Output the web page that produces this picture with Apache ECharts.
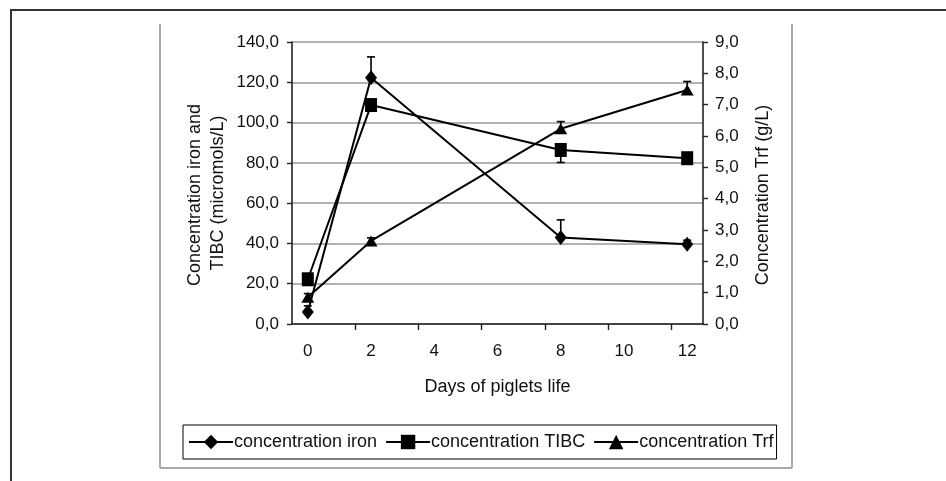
<!DOCTYPE html>
<html>
<head>
<meta charset="utf-8">
<script src="https://cdn.jsdelivr.net/npm/echarts@6/dist/echarts.min.js"></script>
<style>
html,body{margin:0;padding:0;background:#fff;}
#chart{width:946px;height:481px;}
</style>
</head>
<body>
<div id="chart"></div>
<script>
// ---- data ----
var days = [0, 2, 8, 12];
var xTickLabels = [0, 2, 4, 6, 8, 10, 12];
var ironValues = [6.0, 122.3, 42.9, 39.6];
var ironErrPlus = [3.0, 10.3, 8.8, 2.0];
var tibcValues = [22.2, 108.7, 86.4, 82.3];
var tibcErrMinus = [2.0, 2.0, 6.2, 2.0];
var trfValues = [0.85, 2.65, 6.23, 7.47];
var trfErrPlus = [0.12, 0.1, 0.23, 0.27];
var seriesNames = ['concentration iron', 'concentration TIBC', 'concentration Trf'];
var leftAxisTitle = ['Concentration iron and', 'TIBC (micromols/L)'];
var rightAxisTitle = 'Concentration Trf (g/L)';
var xAxisTitle = 'Days of piglets life';

function pairs(xs, ys) { return xs.map(function (x, i) { return [x, ys[i]]; }); }
function errData(xs, ys, es) { return xs.map(function (x, i) { return [x, ys[i], es[i]]; }); }

var FONT = '"Liberation Sans", Arial, sans-serif';
var TXT = '#111';

function errRender(dir) {
  return function (params, api) {
    var x = api.value(0), y = api.value(1), e = api.value(2);
    var p0 = api.coord([x, y]);
    var p1 = api.coord([x, y + dir * e]);
    var half = 4;
    return {
      type: 'group',
      children: [
        { type: 'line', shape: { x1: p0[0], y1: p0[1], x2: p1[0], y2: p1[1] }, style: { stroke: '#000', lineWidth: 1.6 } },
        { type: 'line', shape: { x1: p1[0] - half, y1: p1[1], x2: p1[0] + half, y2: p1[1] }, style: { stroke: '#000', lineWidth: 1.6 } }
      ]
    };
  };
}

var chart = echarts.init(document.getElementById('chart'), null, { renderer: 'canvas' });

var option = {
  backgroundColor: '#fff',
  animation: false,
  textStyle: { fontFamily: FONT, color: TXT },
  grid: { left: 292, right: 243, top: 42, bottom: 157 },
  legend: {
    left: 183, top: 425,
    data: seriesNames,
    itemWidth: 44, itemHeight: 18, itemGap: 8,
    padding: [8, 3, 8, 5],
    borderColor: '#000', borderWidth: 1,
    textStyle: { fontFamily: FONT, fontSize: 18, color: TXT, padding: [0, 0, 0, -4] }
  },
  xAxis: {
    type: 'value', min: -0.5, max: 12.5,
    name: xAxisTitle, nameLocation: 'middle', nameGap: 54,
    nameTextStyle: { fontFamily: FONT, fontSize: 18, color: TXT },
    axisLine: { onZero: false, lineStyle: { color: '#222', width: 1.6 } },
    axisTick: { show: true, length: 6, lineStyle: { color: '#222', width: 1.4 }, customValues: [1.5, 3.5, 5.5, 7.5, 9.5, 11.5] },
    axisLabel: { customValues: xTickLabels, margin: 19, fontSize: 17, color: TXT, fontFamily: FONT, formatter: function (v) { return String(v); } },
    splitLine: { show: false }
  },
  yAxis: [
    {
      type: 'value', min: 0, max: 140, interval: 20, position: 'left',
      axisLine: { show: true, onZero: false, lineStyle: { color: '#222', width: 1.6 } },
      axisTick: { show: true, length: 5, lineStyle: { color: '#222', width: 1.4 } },
      axisLabel: { margin: 13, fontSize: 17, color: TXT, fontFamily: FONT, formatter: function (v) { return v.toFixed(1).replace('.', ','); } },
      splitLine: { show: true, lineStyle: { color: '#9a9a9a', width: 1.6 } }
    },
    {
      type: 'value', min: 0, max: 9, interval: 1, position: 'right',
      axisLine: { show: true, onZero: false, lineStyle: { color: '#222', width: 1.6 } },
      axisTick: { show: true, length: 5, lineStyle: { color: '#222', width: 1.4 } },
      axisLabel: { margin: 12, fontSize: 17, color: TXT, fontFamily: FONT, formatter: function (v) { return v.toFixed(1).replace('.', ','); } },
      splitLine: { show: false }
    }
  ],
  graphic: [
    { type: 'line', shape: { x1: 10, y1: 10, x2: 946, y2: 10 }, style: { stroke: '#333', lineWidth: 2 } },
    { type: 'line', shape: { x1: 11, y1: 10, x2: 11, y2: 481 }, style: { stroke: '#333', lineWidth: 2 } },
    { type: 'line', shape: { x1: 160, y1: 24, x2: 160, y2: 468 }, style: { stroke: '#aaa', lineWidth: 2 } },
    { type: 'line', shape: { x1: 160, y1: 468, x2: 792, y2: 468 }, style: { stroke: '#aaa', lineWidth: 2 } },
    { type: 'line', shape: { x1: 792, y1: 24, x2: 792, y2: 468 }, style: { stroke: '#aaa', lineWidth: 2 } },
    { type: 'text', x: 195, y: 195, rotation: Math.PI / 2, style: { text: leftAxisTitle[0], font: '18px ' + FONT, fill: TXT, textAlign: 'center', textVerticalAlign: 'middle' } },
    { type: 'text', x: 218, y: 193, rotation: Math.PI / 2, style: { text: leftAxisTitle[1], font: '18px ' + FONT, fill: TXT, textAlign: 'center', textVerticalAlign: 'middle' } },
    { type: 'text', x: 763, y: 195, rotation: Math.PI / 2, style: { text: rightAxisTitle, font: '18px ' + FONT, fill: TXT, textAlign: 'center', textVerticalAlign: 'middle' } }
  ],
  series: [
    { type: 'custom', yAxisIndex: 0, renderItem: errRender(1), data: errData(days, ironValues, ironErrPlus), z: 3, silent: true },
    { type: 'custom', yAxisIndex: 0, renderItem: errRender(-1), data: errData(days, tibcValues, tibcErrMinus), z: 3, silent: true },
    { type: 'custom', yAxisIndex: 1, renderItem: errRender(1), data: errData(days, trfValues, trfErrPlus), z: 3, silent: true },
    {
      name: seriesNames[0], type: 'line', yAxisIndex: 0, data: pairs(days, ironValues),
      symbol: 'diamond', symbolSize: [12, 15], showAllSymbol: true,
      lineStyle: { color: '#000', width: 2 }, itemStyle: { color: '#000' }, z: 4
    },
    {
      name: seriesNames[1], type: 'line', yAxisIndex: 0, data: pairs(days, tibcValues),
      symbol: 'rect', symbolSize: [12, 14],
      lineStyle: { color: '#000', width: 2 }, itemStyle: { color: '#000' }, z: 4
    },
    {
      name: seriesNames[2], type: 'line', yAxisIndex: 1, data: pairs(days, trfValues),
      symbol: 'triangle', symbolSize: [13, 11],
      lineStyle: { color: '#000', width: 2 }, itemStyle: { color: '#000' }, z: 4
    }
  ]
};
chart.setOption(option);
</script>
</body>
</html>
